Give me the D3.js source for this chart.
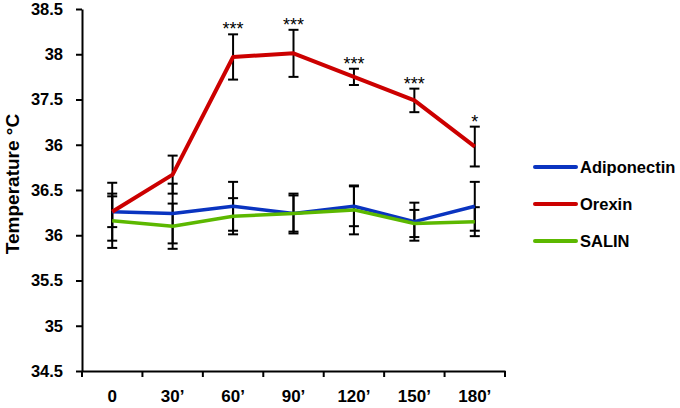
<!DOCTYPE html>
<html>
<head>
<meta charset="utf-8">
<script src="https://cdn.jsdelivr.net/npm/d3@7"></script>
<style>
  body { margin: 0; background: #fff; }
  text { font-family: "Liberation Sans", Arial, sans-serif; }
</style>
</head>
<body>
<div id="chart"></div>
<script>
// time points
const categories = ["0", "30\u2019", "60\u2019", "90\u2019", "120\u2019", "150\u2019", "180\u2019"];

// mean temperature per series
const adiponectin = [36.26, 36.24, 36.32, 36.24, 36.32, 36.15, 36.32];
const orexin      = [36.26, 36.67, 37.97, 38.01, 37.75, 37.49, 36.98];
const salin       = [36.16, 36.10, 36.21, 36.24, 36.28, 36.13, 36.15];

// error bar half-heights
const adiponectinErr = [0.17, 0.33, 0.27, 0.22, 0.22, 0.21, 0.27];
const orexinErr      = [0.32, 0.21, 0.25, 0.26, 0.09, 0.13, 0.22];
const salinErr       = [0.30, 0.25, 0.20, 0.20, 0.27, 0.15, 0.16];

// significance marks above orexin
const stars = ["", "", "***", "***", "***", "***", "*"];

// y ticks and their printed labels (as in the original figure)
const yTicks = [34.5, 35, 35.5, 36, 36.5, 37, 37.5, 38, 38.5];
const yTickLabels = ["34.5", "35", "35.5", "36", "36.5", "36", "37.5", "38", "38.5"];

const series = [
  {name: "Adiponectin", values: adiponectin, err: adiponectinErr, color: "#0a34c0", w: 3.5},
  {name: "Orexin", values: orexin, err: orexinErr, color: "#cc0000", w: 4},
  {name: "SALIN", values: salin, err: salinErr, color: "#5cb800", w: 3.5}
];

const width = 680, height = 408;

const svg = d3.select("#chart")
  .append("svg")
  .attr("width", width)
  .attr("height", height);

// scales
const x = d3.scaleBand()
  .domain(categories)
  .range([82, 505]);

const y = d3.scaleLinear()
  .domain([34.5, 38.5])
  .range([371, 9]);

const cx = function(i) { return x(categories[i]) + x.bandwidth() / 2; };

// Y axis
const yAxis = svg.append("g")
  .attr("transform", "translate(82,0)")
  .call(d3.axisLeft(y)
    .tickValues(yTicks)
    .tickFormat(function(d, i) { return yTickLabels[i]; })
    .tickSize(6)
    .tickSizeOuter(0));
yAxis.select(".domain").attr("stroke", "#000").attr("stroke-width", 2);
yAxis.selectAll(".tick line").attr("stroke", "#000").attr("stroke-width", 2);
yAxis.selectAll("text")
  .attr("x", -19)
  .style("font-size", "16.5px")
  .style("font-weight", "bold")
  .attr("fill", "#000");

// X axis (labels at band centres, ticks at band edges)
const xAxis = svg.append("g")
  .attr("transform", "translate(0,371)")
  .call(d3.axisBottom(x).tickSize(0).tickSizeOuter(0));
xAxis.select(".domain").attr("stroke", "#000").attr("stroke-width", 2);
xAxis.selectAll("text")
  .attr("y", 19)
  .style("font-size", "17px")
  .style("font-weight", "bold")
  .attr("fill", "#000");
xAxis.selectAll("edgetick")
  .data(categories.concat(["end"]))
  .enter()
  .append("line")
    .attr("x1", function(d, i) { return i < categories.length ? x(d) : x.range()[1]; })
    .attr("x2", function(d, i) { return i < categories.length ? x(d) : x.range()[1]; })
    .attr("y1", 0)
    .attr("y2", 6)
    .attr("stroke", "#000")
    .attr("stroke-width", 2);

// Y axis label
svg.append("text")
  .attr("text-anchor", "middle")
  .attr("transform", "translate(19,184)rotate(-90)")
  .style("font-size", "19px")
  .style("font-weight", "bold")
  .text("Temperature \u00B0C");

// error bars
const capW = 5;
series.forEach(function(s) {
  const g = svg.append("g");
  s.values.forEach(function(v, i) {
    const top = y(v + s.err[i]), bot = y(v - s.err[i]), px = cx(i);
    g.append("line").attr("x1", px).attr("x2", px).attr("y1", top).attr("y2", bot)
      .attr("stroke", "#000").attr("stroke-width", 2);
    [top, bot].forEach(function(yy) {
      g.append("line").attr("x1", px - capW).attr("x2", px + capW).attr("y1", yy).attr("y2", yy)
        .attr("stroke", "#000").attr("stroke-width", 2);
    });
  });
});

// lines
const line = d3.line()
  .x(function(d, i) { return cx(i); })
  .y(function(d) { return y(d); });

series.forEach(function(s) {
  svg.append("path")
    .datum(s.values)
    .attr("fill", "none")
    .attr("stroke", s.color)
    .attr("stroke-width", s.w)
    .attr("stroke-linejoin", "round")
    .attr("d", line);
});

// significance stars
svg.selectAll("star")
  .data(stars)
  .enter()
  .append("text")
    .attr("x", function(d, i) { return cx(i); })
    .attr("y", function(d, i) { return y(orexin[i] + orexinErr[i]) + 1; })
    .attr("text-anchor", "middle")
    .style("font-size", "18px")
    .text(function(d) { return d; });

// legend
const legend = svg.append("g");
series.forEach(function(s, i) {
  const ly = 167 + i * 37;
  legend.append("line")
    .attr("x1", 535).attr("x2", 576)
    .attr("y1", ly).attr("y2", ly)
    .attr("stroke", s.color)
    .attr("stroke-width", 4)
    .attr("stroke-linecap", "round");
  legend.append("text")
    .attr("x", 580)
    .attr("y", ly)
    .attr("dy", "0.35em")
    .style("font-size", "16.5px")
    .style("font-weight", "bold")
    .text(s.name);
});
</script>
</body>
</html>
